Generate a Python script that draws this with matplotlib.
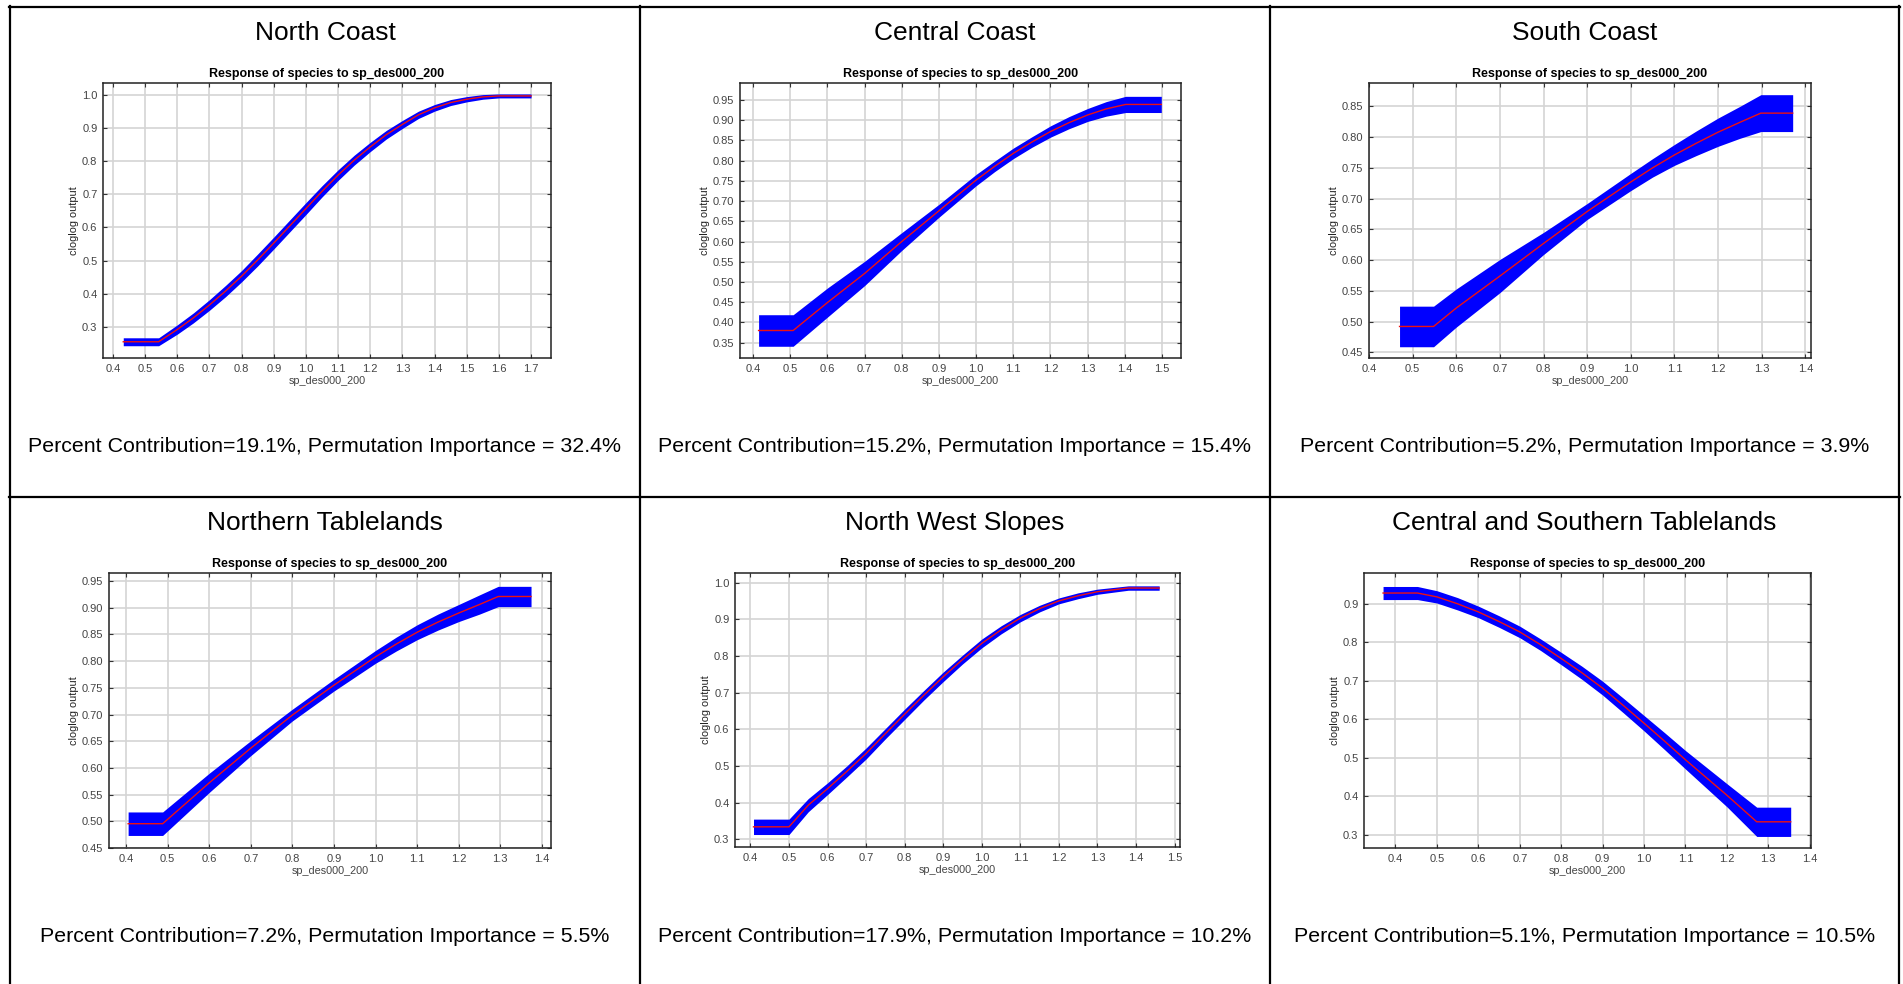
import matplotlib
matplotlib.use("Agg")
import matplotlib.pyplot as plt
from matplotlib.lines import Line2D
import numpy as np

plt.rcParams["font.family"] = ["Liberation Sans", "DejaVu Sans"]

W, H = 1903, 984

regions = ["North Coast", "Central Coast", "South Coast",
           "Northern Tablelands", "North West Slopes", "Central and Southern Tablelands"]
contrib = [19.1, 15.2, 5.2, 7.2, 17.9, 5.1]
perm_imp = [32.4, 15.4, 3.9, 5.5, 10.2, 10.5]

# response curves: x, mean, half-width of the blue band
nc_x = [0.432, 0.542, 0.6, 0.65, 0.7, 0.75, 0.8, 0.85, 0.9, 0.95, 1.0, 1.05, 1.1, 1.15,
        1.2, 1.25, 1.3, 1.35, 1.4, 1.45, 1.5, 1.55, 1.6, 1.7]
nc_y = [0.255, 0.255, 0.292, 0.327, 0.366, 0.408, 0.453, 0.502, 0.553, 0.605, 0.657, 0.709,
        0.758, 0.803, 0.843, 0.880, 0.911, 0.940, 0.961, 0.977, 0.987, 0.994, 0.997, 0.997]
nc_h = [0.012, 0.012, 0.014, 0.015, 0.016, 0.017, 0.017, 0.018, 0.018, 0.018, 0.018, 0.017,
        0.016, 0.015, 0.014, 0.013, 0.012, 0.011, 0.010, 0.009, 0.008, 0.007, 0.006, 0.006]

cc_x = [0.415, 0.508, 0.6, 0.7, 0.8, 0.9, 1.0, 1.05, 1.1, 1.15, 1.2, 1.25, 1.3, 1.35, 1.402, 1.498]
cc_y = [0.380, 0.380, 0.449, 0.521, 0.600, 0.676, 0.752, 0.786, 0.818, 0.846, 0.872, 0.894,
        0.913, 0.928, 0.939, 0.939]
cc_h = [0.039, 0.039, 0.036, 0.030, 0.022, 0.016, 0.014, 0.013, 0.013, 0.013, 0.014, 0.015,
        0.016, 0.018, 0.020, 0.020]

sc_x = [0.470, 0.548, 0.6, 0.7, 0.8, 0.9, 1.0, 1.05, 1.1, 1.15, 1.2, 1.25, 1.298, 1.371]
sc_y = [0.492, 0.492, 0.522, 0.574, 0.627, 0.679, 0.727, 0.750, 0.771, 0.790, 0.808, 0.824,
        0.839, 0.839]
sc_h = [0.033, 0.033, 0.031, 0.027, 0.018, 0.013, 0.014, 0.015, 0.017, 0.020, 0.023, 0.026,
        0.030, 0.030]

nt_x = [0.405, 0.488, 0.6, 0.7, 0.8, 0.9, 1.0, 1.05, 1.1, 1.15, 1.2, 1.25, 1.295, 1.374]
nt_y = [0.4955, 0.4955, 0.572, 0.637, 0.699, 0.755, 0.808, 0.832, 0.854, 0.873, 0.890, 0.906,
        0.921, 0.921]
nt_h = [0.022, 0.022, 0.018, 0.014, 0.011, 0.011, 0.012, 0.013, 0.014, 0.015, 0.016, 0.018,
        0.019, 0.019]

nws_x = [0.408, 0.50, 0.55, 0.6, 0.65, 0.7, 0.75, 0.8, 0.85, 0.9, 0.95, 1.0, 1.05, 1.1,
         1.15, 1.2, 1.25, 1.3, 1.38, 1.46]
nws_y = [0.334, 0.334, 0.393, 0.438, 0.485, 0.534, 0.588, 0.641, 0.693, 0.743, 0.790, 0.834,
         0.871, 0.903, 0.929, 0.950, 0.964, 0.975, 0.985, 0.985]
nws_h = [0.021, 0.021, 0.018, 0.016, 0.015, 0.015, 0.014, 0.014, 0.013, 0.013, 0.012, 0.012,
         0.011, 0.010, 0.009, 0.008, 0.008, 0.007, 0.006, 0.006]

cst_x = [0.37, 0.453, 0.5, 0.55, 0.6, 0.65, 0.7, 0.75, 0.8, 0.85, 0.9, 0.95, 1.0, 1.05,
         1.1, 1.15, 1.2, 1.272, 1.354]
cst_y = [0.928, 0.928, 0.918, 0.900, 0.879, 0.854, 0.827, 0.794, 0.758, 0.721, 0.681, 0.636,
         0.590, 0.543, 0.495, 0.449, 0.403, 0.334, 0.334]
cst_h = [0.017, 0.017, 0.016, 0.016, 0.015, 0.015, 0.015, 0.015, 0.016, 0.017, 0.018, 0.019,
         0.020, 0.022, 0.024, 0.027, 0.030, 0.038, 0.038]

curves = [(nc_x, nc_y, nc_h), (cc_x, cc_y, cc_h), (sc_x, sc_y, sc_h),
          (nt_x, nt_y, nt_h), (nws_x, nws_y, nws_h), (cst_x, cst_y, cst_h)]

x_limits = [(0.369, 1.762), (0.365, 1.551), (0.429, 1.413),
            (0.359, 1.422), (0.360, 1.514), (0.324, 1.403)]
y_limits = [(0.206, 1.036), (0.312, 0.992), (0.4407, 0.888),
            (0.45, 0.965), (0.279, 1.026), (0.266, 0.98)]
y_ticks = [(0.3, 1.0, 0.1), (0.35, 0.95, 0.05), (0.45, 0.85, 0.05),
           (0.45, 0.95, 0.05), (0.3, 1.0, 0.1), (0.3, 0.9, 0.1)]
y_fmt = ["%.1f", "%.2f", "%.2f", "%.2f", "%.1f", "%.1f"]

# axes boxes in pixels: left, right, top, bottom
boxes = [(103, 551, 83, 358), (740, 1181, 83, 358), (1369, 1811, 83, 358),
         (109, 551, 573, 848), (735, 1180, 573, 847), (1364, 1811, 573, 848)]
cells = [(10, 640), (640, 1270), (1270, 1899)]

fig = plt.figure(figsize=(W / 100, H / 100), dpi=100)


def fx(px):
    return px / W


def fy(py):
    return 1 - py / H


# table borders
for xv in [10, 640, 1270, 1899]:
    fig.add_artist(Line2D([fx(xv), fx(xv)], [fy(6), fy(H + 5)], color="black", lw=1.6))
for yv in [7, 497]:
    fig.add_artist(Line2D([fx(9), fx(1900)], [fy(yv), fy(yv)], color="black", lw=1.6))

for i in range(6):
    row, col = divmod(i, 3)
    l, r, t, b = boxes[i]
    ax = fig.add_axes([fx(l), fy(b), (r - l) / W, (b - t) / H])
    xs, ys, hs = (np.array(v) for v in curves[i])
    ax.fill_between(xs, ys - hs, ys + hs, color="#0000ff", lw=0, zorder=3)
    ax.plot(xs, ys, color="#ee1111", lw=1.0, zorder=4)

    ax.set_xlim(*x_limits[i])
    ax.set_ylim(*y_limits[i])
    ax.set_xticks(np.round(np.arange(0.4, x_limits[i][1] + 0.001, 0.1), 2))
    ax.xaxis.set_major_formatter(matplotlib.ticker.FormatStrFormatter("%.1f"))
    y0, y1, st = y_ticks[i]
    ax.set_yticks(np.round(np.arange(y0, y1 + st / 2, st), 2))
    ax.yaxis.set_major_formatter(matplotlib.ticker.FormatStrFormatter(y_fmt[i]))
    ax.grid(True, color="#d4d4d4", lw=1.2, zorder=0)
    ax.set_axisbelow(True)
    ax.tick_params(direction="in", length=3, width=0.8, color="#333333",
                   labelsize=8, labelcolor="#444444", top=True, right=True, pad=4)
    for sp in ax.spines.values():
        sp.set_color("#222222")
        sp.set_linewidth(1.1)
    ax.set_title("Response of species to sp_des000_200", fontsize=9, fontweight="bold", pad=4)
    ax.set_xlabel("sp_des000_200", fontsize=7.8, color="#444444", labelpad=2)
    ax.set_ylabel("cloglog output", fontsize=7.8, color="#222222", labelpad=2)

    cx = (cells[col][0] + cells[col][1]) / 2
    top = 7 + row * 490
    fig.text(fx(cx), fy(top + 26), regions[i], fontsize=19, ha="center", va="center")
    fig.text(fx(cx), fy(top + 439),
             f"Percent Contribution={contrib[i]}%, Permutation Importance = {perm_imp[i]}%",
             fontsize=15.4, ha="center", va="center")

fig.savefig("out.png", dpi=100)
